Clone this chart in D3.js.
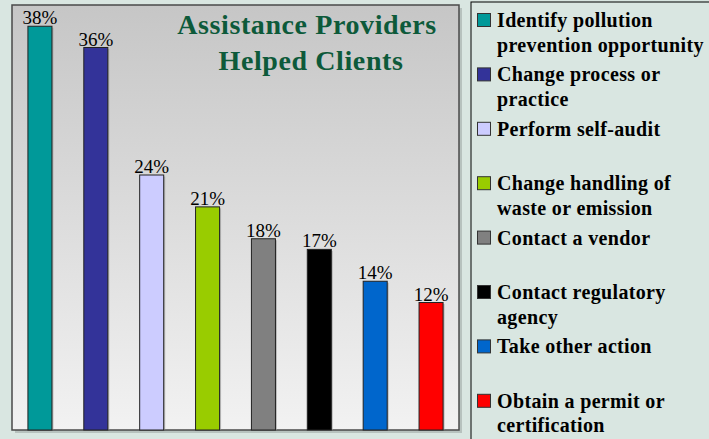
<!DOCTYPE html>
<html><head><meta charset="utf-8">
<script src="https://cdn.jsdelivr.net/npm/d3@7"></script>
<style>html,body{margin:0;padding:0;background:#d9e6e1;}svg{display:block;}</style>
</head><body>
<svg id="c" width="709" height="439"></svg>
<script>
const categories = ["Identify pollution prevention opportunity","Change process or practice","Perform self-audit","Change handling of waste or emission","Contact a vendor","Contact regulatory agency","Take other action","Obtain a permit or certification"];
const legendLines = [["Identify pollution","prevention opportunity"],["Change process or","practice"],["Perform self-audit"],["Change handling of","waste or emission"],["Contact a vendor"],["Contact regulatory","agency"],["Take other action"],["Obtain a permit or","certification"]];
const values = [38,36,24,21,18,17,14,12];
const colors = ["#009999","#333399","#ccccff","#99cc00","#808080","#000000","#0066cc","#ff0000"];
const titleLines = ["Assistance Providers","Helped Clients"];

const svg = d3.select("#c");
const W = 709, H = 439;
const serif = "'Liberation Serif','Times New Roman',Times,serif";
svg.append("rect").attr("width",W).attr("height",H).attr("fill","#d9e6e1");

const plot = {l:12, t:5, r:459, b:430};
const defs = svg.append("defs");
const g = defs.append("linearGradient").attr("id","bg").attr("x1",0).attr("y1",0).attr("x2",0).attr("y2",1);
g.append("stop").attr("offset","0%").attr("stop-color","#c6c6c6");
g.append("stop").attr("offset","100%").attr("stop-color","#f2f2f2");

svg.append("rect").attr("x",plot.l+3).attr("y",plot.t+3).attr("width",plot.r-plot.l).attr("height",plot.b-plot.t).attr("fill","#b7c2be");
svg.append("rect").attr("x",plot.l).attr("y",plot.t).attr("width",plot.r-plot.l).attr("height",plot.b-plot.t)
  .attr("fill","url(#bg)").attr("stroke","#4a4a4a").attr("stroke-width",1.5);

const x = d3.scaleBand().domain(categories).range([plot.l, plot.r]).paddingInner(0.57).paddingOuter(0.285);
const y = d3.scaleLinear().domain([0,40]).range([plot.b, plot.t]);

const bars = svg.append("g");
bars.selectAll("rect.sh").data(values).join("rect")
  .attr("x",(d,i)=>x(categories[i])+1.5).attr("y",d=>y(d)+1.5)
  .attr("width",x.bandwidth()).attr("height",d=>plot.b-y(d)-1.5)
  .attr("fill","#999").attr("opacity",0.6);
bars.selectAll("rect.b").data(values).join("rect")
  .attr("x",(d,i)=>x(categories[i])).attr("y",d=>y(d))
  .attr("width",x.bandwidth()).attr("height",d=>plot.b-y(d))
  .attr("fill",(d,i)=>colors[i]).attr("stroke","#222").attr("stroke-width",1);

svg.append("g").selectAll("text").data(values).join("text")
  .attr("x",(d,i)=>x(categories[i])+x.bandwidth()/2).attr("y",d=>y(d)-2)
  .attr("text-anchor","middle").attr("font-family",serif)
  .attr("font-size",19).attr("fill","#000").text(d=>d+"%");

svg.append("g").selectAll("text").data(titleLines).join("text")
  .attr("x",(d,i)=>[307,311][i]).attr("y",(d,i)=>34+i*36)
  .attr("text-anchor","middle").attr("font-family",serif)
  .attr("font-weight","bold").attr("font-size",28).attr("letter-spacing",0.6)
  .attr("fill","#0d5a3a").text(d=>d);

svg.append("rect").attr("x",471).attr("y",2).attr("width",260).attr("height",460)
  .attr("fill","#d9e6e1").attr("stroke","#000").attr("stroke-width",1);
const leg = svg.append("g");
const items = leg.selectAll("g").data(legendLines).join("g")
  .attr("transform",(d,i)=>`translate(0,${27+i*54.4})`);
items.append("rect").attr("x",477.5).attr("y",-13.5).attr("width",13).attr("height",13)
  .attr("fill",(d,i)=>colors[i]).attr("stroke","#333").attr("stroke-width",1);
items.each(function(lines){
  d3.select(this).selectAll("text").data(lines).join("text")
    .attr("x",497).attr("y",(d,j)=>j*24.5)
    .attr("font-family",serif)
    .attr("font-weight","bold").attr("font-size",20).attr("letter-spacing",0.35)
    .attr("fill","#000").text(d=>d);
});
</script>
</body></html>
